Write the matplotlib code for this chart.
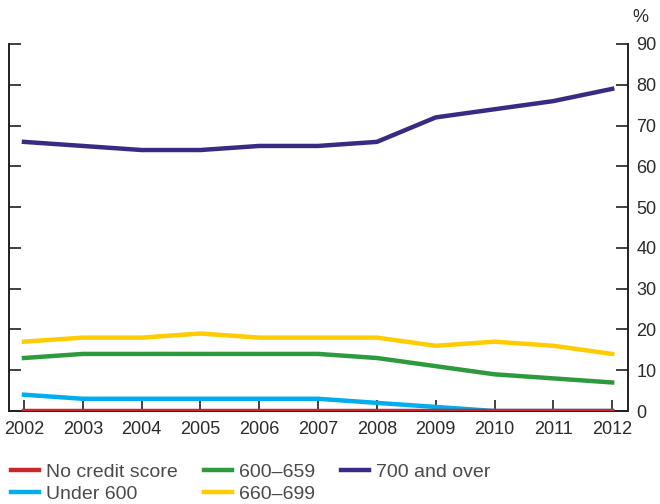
import matplotlib.pyplot as plt
import numpy as np

plt.rcParams['font.family'] = ['Liberation Sans', 'DejaVu Sans']

years = [2002, 2003, 2004, 2005, 2006, 2007, 2008, 2009, 2010, 2011, 2012]
over700 = [66, 65, 64, 64, 65, 65, 66, 72, 74, 76, 79]
s660_699 = [17, 18, 18, 19, 18, 18, 18, 16, 17, 16, 14]
s600_659 = [13, 14, 14, 14, 14, 14, 13, 11, 9, 8, 7]
under600 = [4, 3, 3, 3, 3, 3, 2, 1, 0, 0, 0]
no_score = [0, 0, 0, 0, 0, 0, 0, 0, 0, 0, 0]
yticks = [0, 10, 20, 30, 40, 50, 60, 70, 80, 90]

txt = '#2a2a2a'
fig = plt.figure(figsize=(6.6, 5.04), dpi=100)
ax = fig.add_axes([0.0136, 0.1845, 0.938, 0.7282])

lw = 3.2
h_purple, = ax.plot(years, over700, color='#3b2a84', lw=lw, label='700 and over')
h_yellow, = ax.plot(years, s660_699, color='#ffcc00', lw=lw, label='660\u2013699')
h_green, = ax.plot(years, s600_659, color='#2d9a3e', lw=lw, label='600\u2013659')
h_cyan, = ax.plot(years, under600, color='#00aeef', lw=lw, label='Under 600')
h_red, = ax.plot(years, no_score, color='#c8282d', lw=lw, label='No credit score', zorder=5)

ax.set_xlim(2001.745, 2012.27)
ax.set_ylim(0, 90)
ax.set_xticks(years)
ax.set_xticklabels([str(y) for y in years], fontsize=13, color=txt)
ax.set_yticks(yticks)
ax.tick_params(axis='x', direction='in', length=8, width=1.2, pad=7, color='#231f20')
ax.tick_params(axis='y', direction='in', length=8.5, width=1.2, labelsize=13,
               left=True, right=True, labelleft=False, labelright=True, pad=6,
               color='#231f20', labelcolor=txt)
ax.spines['top'].set_visible(False)
for s in ['left', 'right', 'bottom']:
    ax.spines[s].set_linewidth(1.4)
    ax.spines[s].set_color('#231f20')

fig.text(0.982, 0.965, '%', fontsize=13, ha='right', va='center', color=txt)

leg = fig.legend(handles=[h_red, h_cyan, h_green, h_yellow, h_purple],
                 loc='upper left', bbox_to_anchor=(0.016, 0.08), ncol=3, frameon=False,
                 fontsize=14, handlelength=1.45, handletextpad=0.35, columnspacing=1.35,
                 labelspacing=0.2, borderaxespad=0, borderpad=0)
for t in leg.get_texts():
    t.set_color('#4a4a4a')

fig.savefig('out.png', dpi=100)
